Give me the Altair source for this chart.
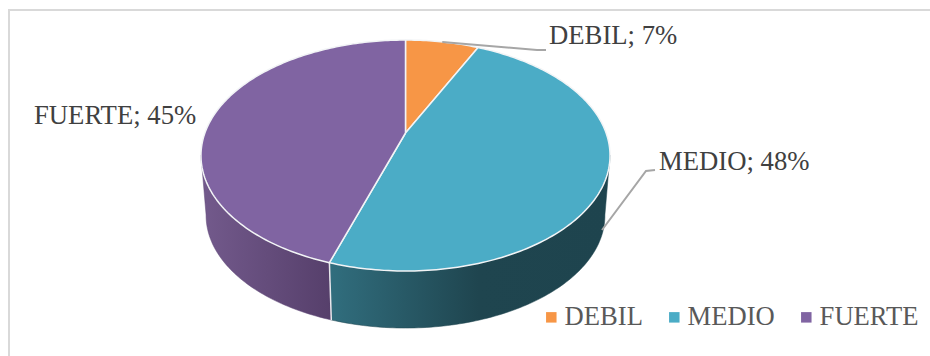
import math
import altair as alt
import pandas as pd

# Pie shares, clockwise from twelve o'clock
names = ["DEBIL", "MEDIO", "FUERTE"]
shares = [7, 48, 45]
top_colors = ["#F79646", "#4BACC6", "#8064A2"]
labels = ["DEBIL; 7%", "MEDIO; 48%", "FUERTE; 45%"]

# Tilted-disc projection: the circle is seen in perspective, in pixel units
CX, CY = 405.5, 133.0
RX, RY, TILT = 200.6, 111.1, 0.195
DEPTH, SHRINK = 60.5, 0.975


def project(deg, wall=False):
    a = math.radians(deg)
    u, v = math.sin(a), math.cos(a)
    d = 1 + TILT * v
    dx, dy = RX * u / d, -RY * v / d
    if wall:
        return CX + SHRINK * dx, CY + DEPTH + SHRINK * dy
    return CX + dx, CY + dy


def arc(start, end, wall=False):
    n = max(2, int(abs(end - start)) + 1)
    return [project(start + (end - start) * i / (n - 1), wall) for i in range(n)]


# Cumulative slice boundaries, in degrees
edges = [0.0]
for s in shares:
    edges.append(edges[-1] + s * 3.6)

top_rows = []
for name, a0, a1 in zip(names, edges[:-1], edges[1:]):
    outline = [(CX, CY)] + arc(a0, a1) + [(CX, CY)]
    for i, (x, y) in enumerate(outline):
        top_rows.append({"name": name, "x": x, "y": y, "i": i})
top = pd.DataFrame(top_rows)


def wall_frame(a0, a1):
    pts = arc(a0, a1) + arc(a1, a0, wall=True)
    pts.append(pts[0])
    return pd.DataFrame([{"x": x, "y": y, "i": i} for i, (x, y) in enumerate(pts)])


# Only the near side of the rim is visible
RIGHT_LIMIT, LEFT_LIMIT = 101.0, 259.0
seam = edges[2]

x_enc = alt.X("x:Q", scale=alt.Scale(domain=[0, 930], range=[0, 930]), axis=None)
y_enc = alt.Y("y:Q", scale=alt.Scale(domain=[356, 0], range=[356, 0]), axis=None)


def gradient(stops):
    return alt.LinearGradient(
        gradient="linear", x1=0, x2=1, y1=0, y2=0,
        stops=[alt.GradientStop(offset=o, color=c) for o, c in stops],
    )


wall_medio = alt.Chart(wall_frame(RIGHT_LIMIT, seam)).mark_line(
    fill=gradient([(0, "#316E7E"), (0.53, "#1F454F"), (1, "#1E444E")]),
    stroke="#1E444E", strokeWidth=0.5,
).encode(x=x_enc, y=y_enc, order="i:Q")

wall_fuerte = alt.Chart(wall_frame(seam, LEFT_LIMIT)).mark_line(
    fill=gradient([(0, "#735A8C"), (1, "#563F6B")]),
    stroke="#5E4676", strokeWidth=0.5,
).encode(x=x_enc, y=y_enc, order="i:Q")

# White hairline down the seam between the two visible walls
seam_line = alt.Chart(pd.DataFrame([
    {"x": project(seam)[0], "y": project(seam)[1], "i": 0},
    {"x": project(seam, True)[0], "y": project(seam, True)[1], "i": 1},
])).mark_line(stroke="#E8E8EC", strokeWidth=1.5).encode(x=x_enc, y=y_enc, order="i:Q")

slices = alt.Chart(top).mark_line(
    stroke="#F2F4F6", strokeWidth=1.5, strokeJoin="round"
).encode(
    x=x_enc, y=y_enc, order="i:Q",
    fill=alt.Fill(
        "name:N",
        scale=alt.Scale(domain=names, range=top_colors),
        sort=names,
        legend=alt.Legend(
            title=None, orient="none", legendX=538, legendY=304, direction="horizontal",
            columns=3, symbolType="square", symbolSize=110, symbolStrokeWidth=0,
            labelFont="Liberation Serif", labelFontSize=26.6, labelColor="#595959",
            labelOffset=0, columnPadding=18, padding=0, labelLimit=200,
            symbolOffset=0, symbolOpacity=1,
        ),
    ),
)

# Leader lines from the slices out to their labels
leader_debil = [(*project((edges[0] + edges[1]) / 2), 0), (537, 50, 1), (546, 50, 2)]
leader_medio = [(602, 230, 0), (646, 171, 1), (655, 170, 2)]
leaders = pd.DataFrame(
    [{"x": x, "y": y, "i": i, "k": "d"} for x, y, i in leader_debil]
    + [{"x": x, "y": y, "i": i, "k": "m"} for x, y, i in leader_medio]
)
leader_lines = alt.Chart(leaders).mark_line(stroke="#A6A6A6", strokeWidth=2).encode(
    x=x_enc, y=y_enc, order="i:Q", detail="k:N"
)

label_pos = pd.DataFrame({
    "label": labels,
    "x": [549, 659, 34],
    "y": [36, 162, 116],
})
label_text = alt.Chart(label_pos).mark_text(
    font="Liberation Serif", fontSize=26.7, color="#404040", align="left", baseline="middle"
).encode(x=x_enc, y=y_enc, text="label:N")

# Light frame along the top and left of the chart area
frame = alt.Chart(pd.DataFrame([
    {"x": 9, "y": 356, "i": 0}, {"x": 9, "y": 10, "i": 1}, {"x": 930, "y": 10, "i": 2},
])).mark_line(stroke="#D9D9D9", strokeWidth=2).encode(x=x_enc, y=y_enc, order="i:Q")

chart = alt.layer(
    frame, wall_medio, wall_fuerte, seam_line, slices, leader_lines, label_text
).properties(
    width=930, height=356, padding=0, background="white",
    autosize=alt.AutoSizeParams(type="none"),
).configure_view(stroke=None)

chart.save("out.html", embed_options={"renderer": "svg", "actions": False})
